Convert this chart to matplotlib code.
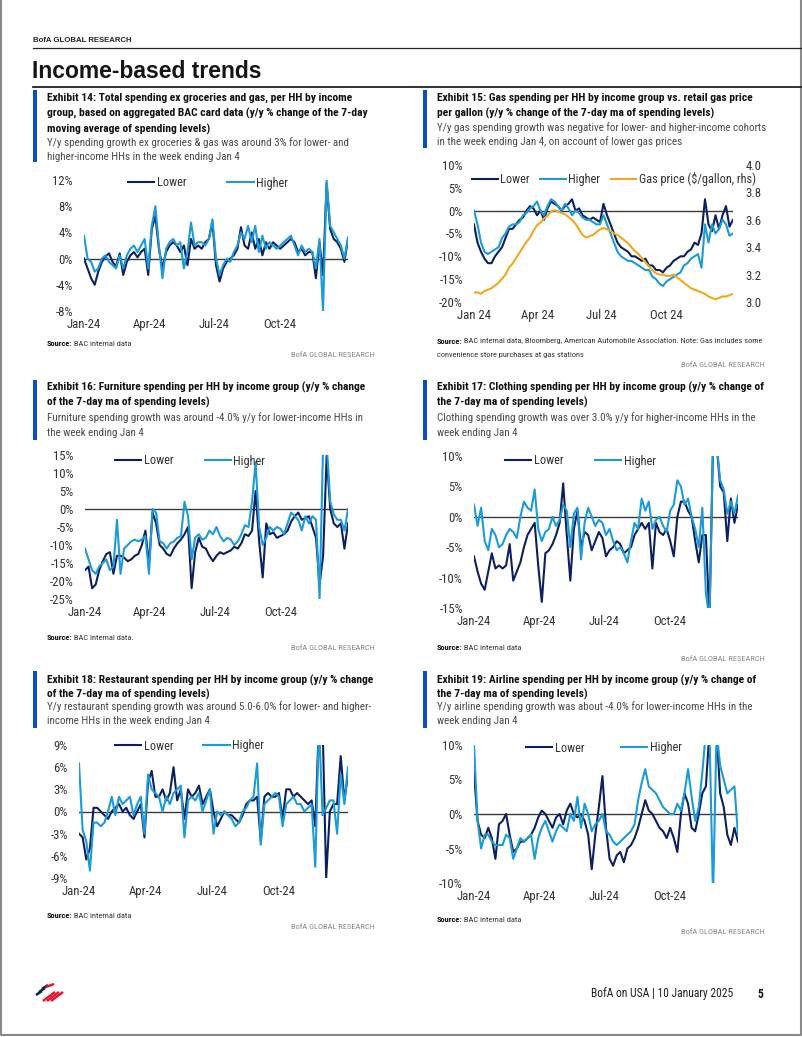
import numpy as np
import pandas as pd
import matplotlib.pyplot as plt
from matplotlib import font_manager as fm

W, H = 802, 1037
NAVY = "#0c1f5f"
LIGHT = "#1b9bd8"
ORANGE = "#f0a81c"
BAR_BLUE = "#0b4fc8"
TXT = "#333333"

# pick a narrow sans if one is installed, else Lato at a smaller size
_names = {f.name for f in fm.fontManager.ttflist}
_dv_cond = any(f.name == "DejaVu Sans" and "condensed" in str(f.stretch) for f in fm.fontManager.ttflist)
if "Liberation Sans Narrow" in _names:
    FONT, K = "Liberation Sans Narrow", 1.0
elif "Roboto Condensed" in _names:
    FONT, K = "Roboto Condensed", 1.0
elif _dv_cond:
    FONT, K = "DejaVu Sans", 0.9
    plt.rcParams["font.stretch"] = "condensed"
else:
    FONT, K = "Lato", 0.84
plt.rcParams["font.family"] = [FONT, "DejaVu Sans"]

# ~5-day sampled readings, Jan 1 2024 -> Jan 4 2025
dates = pd.date_range("2024-01-01", "2025-01-04", periods=75)

# Exhibit 14: total spending ex groceries & gas (y/y %)
total_lower = [0.0, -1.5, -3.0, -4.0, -2.0, -0.5, 0.3, 0.8, -0.5, -1.2,
               0.8, -2.5, -0.5, 0.5, 1.0, 0.2, 1.0, 1.5, -2.5, 4.5,
               6.5, 1.5, -1.5, 1.0, 2.0, 2.5, 2.0, 1.0, 2.0, -1.0,
               3.0, 1.5, 2.0, 1.5, 2.5, 3.0, 5.5, -1.0, -3.5, -1.5,
               -0.5, 0.0, 0.5, 1.5, 4.8, 2.0, 1.5, 4.0, 1.5, 3.0,
               0.5, 2.5, 1.5, 2.5, 2.0, 1.5, 2.0, 2.5, 3.0, 2.5,
               1.0, 1.5, 0.5, 1.0, 1.0, -3.0, 2.5, -2.5, 11.5, 4.5,
               3.0, 2.5, 1.5, -0.5, 3.0]
total_higher = [3.5, 0.0, -0.5, -2.0, -1.5, 0.0, 0.5, -0.5, -1.0, -1.5,
                0.5, -1.5, 0.5, 1.5, 2.0, 1.0, 2.0, 3.0, -1.5, 5.0,
                8.0, 2.0, -3.0, 1.5, 2.5, 3.0, 2.0, 2.5, -1.5, 1.0,
                5.5, 2.0, 2.5, 2.5, 2.0, 3.0, 6.0, 0.0, -2.5, -1.0,
                0.0, -0.5, 1.0, 2.0, 4.0, 3.0, 5.0, 2.5, 5.0, 1.0,
                3.5, 1.5, 2.5, 2.0, 1.5, 2.0, 2.5, 3.0, 3.5, 2.0,
                0.5, 2.0, 1.0, 1.5, 1.0, -1.5, 3.0, -8.0, 12.0, 5.0,
                4.0, 3.0, 2.0, 0.0, 3.2]

# Exhibit 15: gas spending (y/y %) and gas price ($/gallon)
gas_lower = [-3, -7, -9, -10.5, -11.5, -11.5, -10, -9, -8, -6,
             -4, -4, -3, -2, -1.5, 0, 1, 0.5, -1, 0,
             -2, 0.5, 2, 1.5, 1, 0, 1, 1.5, 2.5, 0,
             0.5, -1, -1.5, -2, -1.5, -2, -2.5, 1.5, -1, -3,
             -5, -7, -8, -8.5, -9, -10, -10, -10.5, -11, -10.5,
             -12, -12, -13, -13, -13.5, -12.5, -12, -11, -10.5, -10,
             -10, -9, -8.5, -7, -7.5, -5, 2.5, -3, -4.5, -1,
             -4, -1, 1, -3.5, -2]
gas_higher = [0, -3, -7, -9, -9.5, -9, -8.5, -8, -6, -5,
              -3.5, -3, -3, -2.5, -1, -0.5, 0.5, 1, 2, 0,
              -1, 1, 2.5, 2, 1, 0, 1.5, 0.5, -1, 0,
              -0.5, -1.5, -2, -2, -2.5, -3, -3, -1, -3, -5,
              -7, -9, -10, -10.5, -11, -11, -11.5, -12, -12.5, -13,
              -13, -14.5, -15, -16, -16.5, -15.5, -15, -14.5, -14, -13.5,
              -12, -11.5, -10.5, -10, -9.5, -12.5, -3, -7, -3, -5,
              -4, -2, -3, -5.5, -5]
gas_price = [3.07, 3.07, 3.06, 3.08, 3.09, 3.10, 3.12, 3.14, 3.17, 3.20,
             3.25, 3.28, 3.32, 3.36, 3.40, 3.44, 3.47, 3.52, 3.56, 3.58,
             3.61, 3.63, 3.66, 3.67, 3.66, 3.65, 3.64, 3.62, 3.60, 3.57,
             3.53, 3.49, 3.47, 3.48, 3.49, 3.51, 3.53, 3.54, 3.53, 3.52,
             3.50, 3.49, 3.47, 3.45, 3.43, 3.40, 3.37, 3.35, 3.32, 3.29,
             3.26, 3.23, 3.21, 3.20, 3.20, 3.19, 3.19, 3.20, 3.18, 3.16,
             3.14, 3.12, 3.10, 3.09, 3.08, 3.07, 3.06, 3.04, 3.03, 3.02,
             3.03, 3.04, 3.04, 3.05, 3.06]

# Exhibit 16: furniture
furn_lower = [-17, -16, -22, -21, -17, -14.5, -12.5, -12, -18, -13,
              -13, -13.5, -14.5, -14, -13, -12.5, -10, -6, -15.5, -1,
              -4, -10, -11, -12.5, -13, -11, -9.5, -8.5, -7, -5,
              -22, -12, -8, -10.5, -11, -13, -14.5, -13, -12, -12.5,
              -12, -11.5, -10.5, -11, -9.5, -7, -7.5, -6, 5, -9,
              -19, -4, -7, -6.5, -8, -7.5, -7, -6, -3.5, -2,
              -1, -3, -2.5, -2, -5, -8, -21, -13, 15, 0,
              -4, -5, -4, -11, -4]
furn_higher = [-11, -14, -17, -18, -16, -15, -14, -17, -16, -3,
               -18, -11, -10, -9, -8.5, -9, -8.5, -7.5, -18, 0,
               -1, -9, -9.5, -11, -9.5, -9, -8, -7.5, 2, -2,
               -14, -8, -7, -8.5, -8, -6, -7, -5, -7.5, -9,
               -8, -8.5, -10, -9, -7, -4.5, -5, 2, 13, -5,
               -10, -8, -5, -6, -5, -5.5, -7, -4, -1, -2,
               -3, -6, -2, -4, -2, -3, -25, 18, 18, 2,
               -1.5, -3, -3, -6, 0]

# Exhibit 17: clothing
cloth_lower = [-6.5, -9, -11, -12, -9, -6, -8.5, -8, -8.5, -8,
               -4.5, -10.5, -9, -7.5, -5, -3, -2, -1, -8, -14,
               -6, -5.5, -4.5, -3, -1, 5.5, -3, -10.5, -2, 1,
               -5, -2.5, -3, -5.5, -4, -2.5, -3.5, -6.5, -5.5, -5,
               -4, -4.5, -6, -5.5, -5, -3, -2, -1, -2, -1,
               -8.5, -1, -2.5, -3, -2, -4, -6.5, 0, 2.5, 2.5,
               1, 0, -4, -7.5, -3, -3, -17, 12, 12, 5,
               4, -4, 3, -1, 2]
cloth_higher = [2, -1.5, 1.5, -4, -5.5, -2, -3, -5, -4.5, -3,
                -2, -2.5, -3.5, 0, 2.5, 1.5, 1, 4.5, -2, -4,
                -2.5, -2, 0, -1.5, -0.5, 2, 1, -5, 0.5, 1.5,
                -7, -1, 1.5, 0, -1.5, -0.5, -1, -3, -2, -4,
                -5.5, -5, -6, -7.5, -4, -1, -2, 3, 1, 2.5,
                -2, -0.5, 0, -1.5, -2.5, 1, 2, 6, 5, 2,
                3, 0, -2, -5, 1.5, -12.5, -17, 12, 12, 6,
                4.5, 0.5, 2.5, 0.5, 3.5]

# Exhibit 18: restaurants
rest_lower = [-3, -3.5, -6.5, -5, 0.5, 0.5, 0, -0.5, -1, 0,
              0.5, 1, 0, 0.5, -0.5, -1, 0, 1, -3.5, 4,
              5.5, 2, 2, 3, 1.5, 2.5, 6, 1.5, 3, -1,
              3, 2, 2.5, 3.5, 1, 2, 3, 0, -2, -1,
              0, -0.5, -0.5, -1, -1.5, -0.5, 1, 1.5, 1.5, 2,
              -4, 2, 2.5, 2, 2, 2.5, -1, 3, 3, 2,
              2.5, 2, 1.5, 1, 1.5, -2, 12, 12, -9, 0,
              1, 1, 7.5, 1.5, 5]
rest_higher = [6.5, -2.5, -4, -8, -1.5, -1.5, -2, -1.5, 0, 2,
               -0.5, 2, 1, 1.5, 2, -0.5, 1, 2, -3, 5,
               3, 2.5, 2, 0, 2, 1, 2.5, 3, 3.5, -3.5,
               1.5, 2, 1.5, 2.5, 0, 1.5, 3, -3, 0, -0.5,
               0, -0.5, -1, -2, -1.5, 0, 0.5, 1.5, 2, 6.5,
               -4.5, 1, 1.5, 2, 2.5, 2, -2, 1, 1.5, 2,
               1, 1, 0, 0.5, 1, -7.5, 12, -0.5, 0.5, 1.5,
               1.5, -3, 5, 1, 6]

# Exhibit 19: airlines
air_lower = [6, -1, -3, -3.5, -2, -3.5, -6.5, -1.5, -1, 0,
             -3, -5.5, -5, -4, -4, -3.5, -3, -2, -0.5, 0.5,
             0, -1, -2, -0.5, 0, -1.5, 0.5, 1.5, 0, -0.5,
             0, -1, -3, -8, -3, 1, 5.5, -2, -6.5, -7.5,
             -6, -5.5, -7, -5, -4.5, -3.5, -2, 0, 2, 0.5,
             0, -1, -2, -2.5, -3.5, -2, -3.5, -5.5, 0, 3,
             1.5, -2, -2.5, 0, 3, 4, 12, 12, 12, 3,
             1, -3, -4.5, -2, -4]
air_higher = [10, -1, -5, -3, -3, -4, -4.5, -4.5, -4.5, -3,
              -3.5, -6.5, -5, -3.5, -4, -3.5, -3, -6.5, -3.5, -2,
              -1, -2.5, -4, -2.5, -1.5, -2, -2.5, 0, -1, 2.5,
              -2, 1.5, 0, -2.5, -1.5, -1, 0, -2.5, -3, -4,
              -4.5, -4, -3.5, -3, -2.5, -1.5, 2, 4.5, 6.5, 4,
              3.5, 3, 2, 1, 0.5, 0, 0, 1.5, 0.5, 3,
              6.5, 2.5, -1, 1, 6, 12, 12, -12, 12, 7,
              5, 3, 3.5, 4, -3]

tick_dates = pd.to_datetime(["2024-01-01", "2024-04-01", "2024-07-01", "2024-10-01"])
month_labels = ["Jan-24", "Apr-24", "Jul-24", "Oct-24"]
month_labels_gas = ["Jan 24", "Apr 24", "Jul 24", "Oct 24"]

FS_TITLE = 8.25 * K
FS_SUB = 7.9 * K
FS_TICK = 9.2 * K
FS_LEG = 8.8 * K
FS_SRC = 6.0 * K
LW = 1.5


def pct_labels(ticks):
    return [f"{t}%" for t in ticks]


fig = plt.figure(figsize=(W / 100, H / 100), dpi=100)
bg = fig.add_axes([0, 0, 1, 1])
bg.set_xlim(0, W)
bg.set_ylim(H, 0)
bg.axis("off")

# page frame
bg.plot([1, 1, 801, 801], [0, 1035, 1035, 0], color="#8a8a8a", lw=1.5)

# header
bg.text(33, 41, "BofA GLOBAL RESEARCH", fontsize=5.6, fontweight="bold",
        family=["Liberation Sans", "DejaVu Sans"], color="#222222", va="center")
bg.plot([33, 802], [48, 48], color="#222222", lw=0.9)
bg.text(32, 72, "Income-based trends", fontsize=16.5, fontweight="bold",
        family=["Liberation Sans", "DejaVu Sans"], color="#151515", va="center")
bg.plot([33, 802], [87, 87], color="#222222", lw=1.3)


def header_block(x, bar_top, bar_bot, title_lines, title_y, sub_lines, sub_y):
    bg.add_patch(plt.Rectangle((x, bar_top), 4, bar_bot - bar_top, color=BAR_BLUE, lw=0))
    for line, y in zip(title_lines, title_y):
        bg.text(x + 14, y, line, fontsize=FS_TITLE, fontweight="bold", color="#111111", va="center")
    for line, y in zip(sub_lines, sub_y):
        bg.text(x + 14, y, line, fontsize=FS_SUB, color="#4a4a4a", va="center")


def source_block(x, y, rest, right_x, gr_y, extra=None):
    t = bg.text(x + 14, y, "Source:", fontsize=FS_SRC, fontweight="bold", color="#111111", va="center")
    bg.annotate(" " + rest, xy=(1, 0), xycoords=t, va="bottom", ha="left",
                fontsize=FS_SRC, color="#333333")
    if extra:
        bg.text(x + 14, y + 14, extra, fontsize=FS_SRC, color="#333333", va="center")
    bg.text(right_x, gr_y, "BofA GLOBAL RESEARCH", fontsize=FS_SRC, color="#8a8a8a",
            va="center", ha="right")


def px_axes(l, t, r, b):
    return fig.add_axes([l / W, 1 - b / H, (r - l) / W, (b - t) / H])


def style_axes(ax, yticks, ylabels, xlabels, ylim):
    ax.set_facecolor("none")
    for s in ax.spines.values():
        s.set_visible(False)
    ax.set_xlim(dates[0], dates[-1])
    ax.set_ylim(*ylim)
    ax.set_yticks(yticks)
    ax.set_yticklabels(ylabels)
    ax.set_xticks(tick_dates)
    ax.set_xticklabels(xlabels)
    ax.tick_params(axis="y", length=0, labelsize=FS_TICK, colors=TXT, pad=8)
    ax.tick_params(axis="x", length=0, labelsize=FS_TICK, colors=TXT, pad=5)
    ax.axhline(0, color="#3a3a3a", lw=1.0, zorder=1)


def income_chart(rect, lower, higher, yticks, ylim, leg_xy, colsp, xlabels=month_labels):
    ax = px_axes(*rect)
    style_axes(ax, yticks, pct_labels(yticks), xlabels, ylim)
    ax.plot(dates, lower, color=NAVY, lw=LW, label="Lower", zorder=2)
    ax.plot(dates, higher, color=LIGHT, lw=LW, label="Higher", zorder=3)
    ax.legend(loc="center left", bbox_to_anchor=(leg_xy[0] / W, 1 - leg_xy[1] / H),
              bbox_transform=fig.transFigure, ncol=2, frameon=False, handlelength=2.15,
              handletextpad=0.2, columnspacing=colsp, borderaxespad=0, borderpad=0,
              fontsize=FS_LEG, labelcolor=TXT)
    return ax


# ---- Exhibit 14 ----
header_block(33, 90, 162,
             ["Exhibit 14: Total spending ex groceries and gas, per HH by income",
              "group, based on aggregated BAC card data (y/y % change of the 7-day",
              "moving average of spending levels)"], [98, 113, 129],
             ["Y/y spending growth ex groceries & gas was around 3% for lower- and",
              "higher-income HHs in the week ending Jan 4"], [143, 157])
income_chart((84, 180, 348, 311), total_lower, total_higher,
             [-8, -4, 0, 4, 8, 12], (-8, 12), (128, 183), 3.35)
source_block(33, 344, "BAC internal data", 375, 355)

# ---- Exhibit 15 ----
header_block(423, 90, 148,
             ["Exhibit 15: Gas spending per HH by income group vs. retail gas price",
              "per gallon (y/y % change of the 7-day ma of spending levels)"], [98, 113],
             ["Y/y gas spending growth was negative for lower- and higher-income cohorts",
              "in the week ending Jan 4, on account of lower gas prices"], [128, 142])
ax15 = px_axes(474, 165, 733, 302)
gas_ticks = [-20, -15, -10, -5, 0, 5, 10]
style_axes(ax15, gas_ticks, pct_labels(gas_ticks), month_labels_gas, (-20, 10))
h1, = ax15.plot(dates, gas_lower, color=NAVY, lw=LW, label="Lower", zorder=2)
h2, = ax15.plot(dates, gas_higher, color=LIGHT, lw=LW, label="Higher", zorder=3)
ax15r = ax15.twinx()
ax15r.set_facecolor("none")
for s in ax15r.spines.values():
    s.set_visible(False)
price_ticks = [3.0, 3.2, 3.4, 3.6, 3.8, 4.0]
h3, = ax15r.plot(dates, gas_price, color=ORANGE, lw=LW, label="Gas price ($/gallon, rhs)")
ax15r.set_ylim(3.0, 4.0)
ax15r.set_yticks(price_ticks)
ax15r.set_yticklabels([f"{p:.1f}" for p in price_ticks])
ax15r.tick_params(axis="y", length=0, labelsize=FS_TICK, colors=TXT, pad=9)
ax15r.legend(handles=[h1, h2, h3], loc="center left",
             bbox_to_anchor=(472 / W, 1 - 179 / H), bbox_transform=fig.transFigure,
             ncol=3, frameon=False, handlelength=2.1, handletextpad=0.2,
             columnspacing=0.85, borderaxespad=0, borderpad=0, fontsize=FS_LEG, labelcolor=TXT)
source_block(423, 341, "BAC internal data, Bloomberg, American Automobile Association. Note: Gas includes some",
             765, 365, extra="convenience store purchases at gas stations")

# ---- Exhibit 16 ----
header_block(33, 380, 440,
             ["Exhibit 16: Furniture spending per HH by income group (y/y % change",
              "of the 7-day ma of spending levels)"], [387, 402],
             ["Furniture spending growth was around -4.0% y/y for lower-income HHs in",
              "the week ending Jan 4"], [418, 433])
income_chart((85, 455, 348, 599), furn_lower, furn_higher,
             [-25, -20, -15, -10, -5, 0, 5, 10, 15], (-25, 15), (115, 461), 2.55)
source_block(33, 637, "BAC internal data.", 375, 648)

# ---- Exhibit 17 ----
header_block(423, 380, 440,
             ["Exhibit 17: Clothing spending per HH by income group (y/y % change of",
              "the 7-day ma of spending levels)"], [387, 402],
             ["Clothing spending growth was over 3.0% y/y for higher-income HHs in the",
              "week ending Jan 4"], [418, 433])
income_chart((474, 456, 738, 608), cloth_lower, cloth_higher,
             [-15, -10, -5, 0, 5, 10], (-15, 10), (505, 461), 2.6)
source_block(423, 648, "BAC internal data", 765, 659)

# ---- Exhibit 18 ----
header_block(33, 671, 728,
             ["Exhibit 18: Restaurant spending per HH by income group (y/y % change",
              "of the 7-day ma of spending levels)"], [680, 694],
             ["Y/y restaurant spending growth was around 5.0-6.0% for lower- and higher-",
              "income HHs in the week ending Jan 4"], [707, 721])
income_chart((79, 745, 348, 878), rest_lower, rest_higher,
             [-9, -6, -3, 0, 3, 6, 9], (-9, 9), (115, 746), 2.45)
source_block(33, 915, "BAC internal data", 375, 927)

# ---- Exhibit 19 ----
header_block(423, 671, 728,
             ["Exhibit 19: Airline spending per HH by income group (y/y % change of",
              "the 7-day ma of spending levels)"], [680, 694],
             ["Y/y airline spending growth was about -4.0% for lower-income HHs in the",
              "week ending Jan 4"], [707, 721])
income_chart((474, 745, 738, 883), air_lower, air_higher,
             [-10, -5, 0, 5, 10], (-10, 10), (526, 748), 3.0)
source_block(423, 920, "BAC internal data", 765, 932)

# footer logo (flag strokes)
for dx, dy in [(0, 0), (3, -3), (6, -6)]:
    bg.plot([36 + dx, 42 + dx], [995 + dy, 991 + dy], color=NAVY, lw=1.8, solid_capstyle="butt")
for dx, dy in [(0, 0), (4, 0), (8, 0)]:
    bg.plot([43 + dx, 55 + dx], [1001 + dy, 992 + dy], color="#e31837", lw=1.8, solid_capstyle="butt")
bg.plot([46, 54], [987, 984], color="#e31837", lw=1.8, solid_capstyle="butt")
bg.text(733, 994, "BofA on USA | 10 January 2025", fontsize=8.4 * K, color="#222222",
        ha="right", va="center")
bg.text(757, 994, "5", fontsize=8.4 * K, fontweight="bold", color="#111111", va="center")

fig.savefig("out.png", dpi=100)
